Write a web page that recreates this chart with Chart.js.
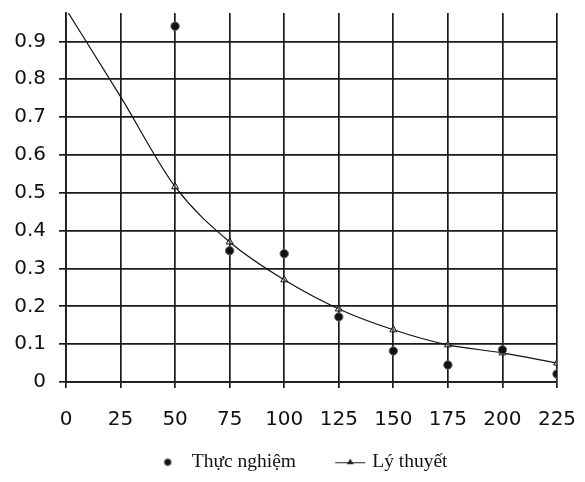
<!DOCTYPE html>
<html>
<head>
<meta charset="utf-8">
<script src="https://cdn.jsdelivr.net/npm/chart.js@4.4.1/dist/chart.umd.min.js"></script>
<style>
  html, body { margin: 0; padding: 0; background: #fff; }
  #wrap { width: 585px; height: 482px; position: relative; }
</style>
</head>
<body>
<div id="wrap"><canvas id="c" width="585" height="482"></canvas></div>
<script>
// ---- data ----
const seriesNames = ["Thực nghiệm", "Lý thuyết"];
const expX = [50, 75, 100, 125, 150, 175, 200, 225];
const expY = [0.94, 0.347, 0.339, 0.172, 0.082, 0.045, 0.085, 0.021];
const theoX = [0, 25, 50, 75, 100, 125, 150, 175, 200, 225];
const theoY = [0.985, 0.754, 0.516, 0.37, 0.27, 0.193, 0.138, 0.098, 0.077, 0.05];
const xTicks = [0, 25, 50, 75, 100, 125, 150, 175, 200, 225];
const yTicks = [0, 0.1, 0.2, 0.3, 0.4, 0.5, 0.6, 0.7, 0.8, 0.9];
const yLabels = ["0", "0.1", "0.2", "0.3", "0.4", "0.5", "0.6", "0.7", "0.8", "0.9"];

// legend symbol images (drawn off-centre so the symbol sits near its text)
function makeDot() {
  const c = document.createElement('canvas'); c.width = 60; c.height = 12;
  const g = c.getContext('2d');
  g.fillStyle = '#111'; g.strokeStyle = '#555'; g.lineWidth = 1;
  g.beginPath(); g.arc(39, 6, 3.3, 0, Math.PI * 2); g.fill(); g.stroke();
  return c;
}
function makeLineTri() {
  const c = document.createElement('canvas'); c.width = 60; c.height = 12;
  const g = c.getContext('2d');
  g.strokeStyle = '#222'; g.lineWidth = 1;
  g.beginPath(); g.moveTo(26, 6.5); g.lineTo(56, 6.5); g.stroke();
  g.fillStyle = '#222';
  g.beginPath(); g.moveTo(41, 2.5); g.lineTo(44.5, 8); g.lineTo(37.5, 8); g.closePath(); g.fill();
  return c;
}
const legendImgs = [makeDot(), makeLineTri()];

const legendShift = {
  id: 'legendShift',
  afterLayout(chart) {
    if (chart.legend) { chart.legend.left += 13; chart.legend.right += 13; }
  }
};

const tickFont = { family: '"DejaVu Sans", "Liberation Sans", Arial, sans-serif', size: 20 };

const ctx = document.getElementById('c').getContext('2d');
new Chart(ctx, {
  type: 'scatter',
  data: {
    datasets: [
      {
        label: seriesNames[0],
        data: expX.map((x, i) => ({ x: x, y: expY[i] })),
        pointStyle: 'circle',
        pointRadius: 4.2,
        pointBackgroundColor: '#111',
        pointBorderColor: '#666',
        pointBorderWidth: 1,
        showLine: false,
        order: 0
      },
      {
        label: seriesNames[1],
        data: theoX.map((x, i) => ({ x: x, y: theoY[i] })),
        showLine: true,
        borderColor: '#111',
        borderWidth: 1.2,
        cubicInterpolationMode: 'monotone',
        pointStyle: 'triangle',
        pointRadius: c => (c.raw && c.raw.x >= 50 ? 4 : 0),
        pointBackgroundColor: 'rgba(255,255,255,0.3)',
        pointBorderColor: '#111',
        pointBorderWidth: 1,
        fill: false,
        order: 1
      }
    ]
  },
  plugins: [legendShift],
  options: {
    responsive: false,
    animation: false,
    layout: { padding: { top: 13, right: 28, left: 0, bottom: 0 } },
    plugins: {
      tooltip: { enabled: false },
      legend: {
        position: 'bottom',
        labels: {
          usePointStyle: true,
          pointStyleWidth: 46.5,
          padding: 20,
          color: '#111',
          font: { family: '"Liberation Serif", "DejaVu Serif", serif', size: 19.5 },
          generateLabels: chart => {
            const items = Chart.defaults.plugins.legend.labels.generateLabels(chart);
            items.forEach((it, i) => { it.pointStyle = legendImgs[i]; });
            return items;
          }
        }
      }
    },
    scales: {
      x: {
        type: 'linear',
        min: 0, max: 225,
        afterBuildTicks: s => { s.ticks = xTicks.map(v => ({ value: v })); },
        afterFit: s => { s.height = 50.5; s.paddingLeft = 0; s.paddingRight = 0; },
        grid: { color: '#1a1a1a', lineWidth: 1.7, tickLength: 6, drawTicks: true },
        border: { color: '#1a1a1a', width: 1.7 },
        ticks: {
          color: '#111',
          padding: 20,
          maxRotation: 0,
          autoSkip: false,
          font: tickFont,
          callback: v => String(v)
        }
      },
      y: {
        type: 'linear',
        min: 0, max: 0.975,
        afterBuildTicks: s => { s.ticks = yTicks.map(v => ({ value: v })); },
        afterFit: s => { s.width = 66; s.paddingTop = 0; s.paddingBottom = 0; },
        grid: { color: '#1a1a1a', lineWidth: 1.7, tickLength: 7, drawTicks: true },
        border: { color: '#1a1a1a', width: 1.7 },
        ticks: {
          color: '#111',
          padding: 13,
          autoSkip: false,
          font: tickFont,
          callback: (v) => { const i = yTicks.findIndex(t => Math.abs(t - v) < 1e-9); return i >= 0 ? yLabels[i] : ''; }
        }
      }
    }
  }
});
</script>
</body>
</html>
